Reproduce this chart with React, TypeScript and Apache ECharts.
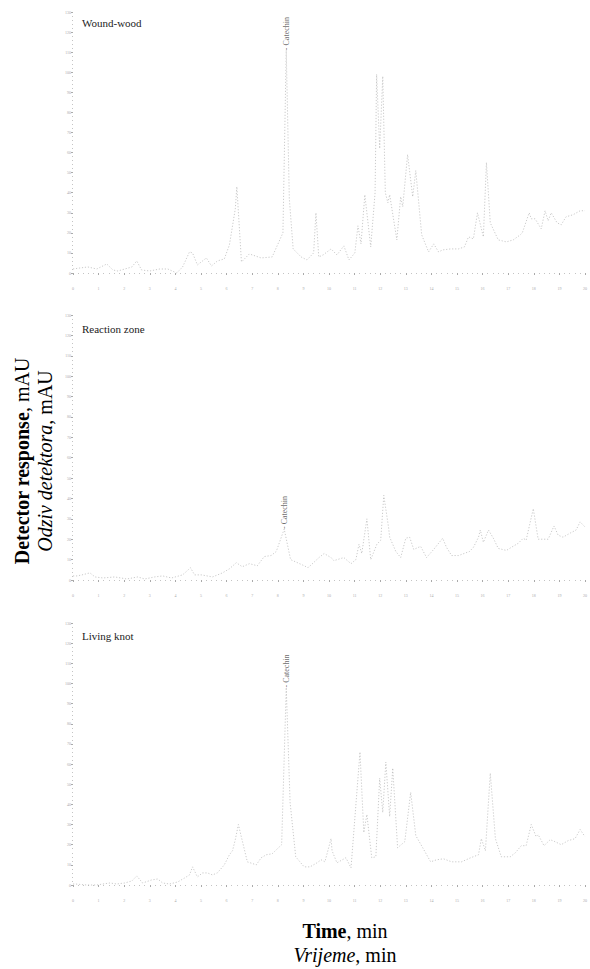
import React, { useEffect, useRef } from "react";
import * as echarts from "echarts";

// Panel titles
const panelNames = ["Wound-wood", "Reaction zone", "Living knot"];

// Retention time (min) and detector response (mAU) — Wound-wood
const woundTime = [0, 0.27, 0.58, 0.93, 1.32, 1.56, 1.75, 2.3, 2.49, 2.68, 3.0, 3.39, 3.7, 4.05, 4.28, 4.55, 4.67, 4.86, 5.21, 5.41, 5.64, 5.91, 6.11, 6.34, 6.4, 6.58, 6.89, 7.35, 7.78, 8.2, 8.33, 8.45, 8.6, 8.91, 9.14, 9.4, 9.49, 9.6, 9.77, 10.08, 10.31, 10.58, 10.78, 11.01, 11.13, 11.25, 11.4, 11.63, 11.8, 11.86, 11.98, 12.1, 12.2, 12.3, 12.37, 12.65, 12.8, 12.88, 13.07, 13.27, 13.39, 13.62, 13.89, 14.09, 14.28, 14.44, 14.75, 15.06, 15.29, 15.45, 15.64, 15.8, 16.03, 16.15, 16.3, 16.61, 16.93, 17.2, 17.47, 17.55, 17.82, 17.9, 18.05, 18.29, 18.44, 18.56, 18.68, 18.91, 19.07, 19.26, 19.53, 19.81, 20.0];
const woundResp = [2, 2.5, 3, 2, 4.5, 1.5, 1, 3, 6, 1.5, 1, 2, 2, 0, 3, 10.5, 10, 4, 7.5, 3.5, 6, 7, 14, 32, 43, 5.5, 9.5, 7.5, 8, 20, 111, 37, 12, 8, 6.5, 10, 30, 8, 9, 12, 9, 13.5, 6.5, 10, 23.5, 14.5, 39, 13, 40, 99, 62, 98, 40, 35, 39, 16.5, 38, 33, 59, 38, 51, 19, 10.5, 14.5, 10.5, 11.5, 12, 12, 13, 18, 17, 30, 18, 55, 25, 16.5, 15.5, 16.5, 19, 20, 30, 27, 27, 22, 31, 26, 30, 25, 24, 28, 29, 31, 31];

// Reaction zone
const reactTime = [0, 0.16, 0.35, 0.66, 0.86, 1.17, 1.63, 2.1, 2.53, 2.8, 3.19, 3.5, 3.85, 4.28, 4.59, 4.75, 5.02, 5.45, 5.84, 6.11, 6.38, 6.61, 6.89, 7.2, 7.47, 7.74, 7.94, 8.25, 8.5, 9.03, 9.18, 9.61, 9.81, 10.08, 10.19, 10.58, 10.86, 11.05, 11.17, 11.28, 11.48, 11.63, 11.87, 12.02, 12.14, 12.33, 12.37, 12.61, 12.8, 13.0, 13.15, 13.31, 13.58, 13.81, 14.09, 14.44, 14.59, 14.79, 15.06, 15.49, 15.64, 15.84, 15.91, 16.03, 16.23, 16.42, 16.61, 16.93, 17.12, 17.39, 17.59, 17.7, 17.98, 18.17, 18.56, 18.79, 18.95, 19.14, 19.42, 19.65, 19.81, 20.0];
const reactResp = [2, 2, 2.5, 3.5, 1.5, 1, 1.5, 0.5, 1.5, 0.5, 1.5, 2, 1, 2.5, 6, 2.5, 2.5, 1.5, 3.5, 5.5, 8.5, 6.5, 8, 7, 11.5, 12, 14, 25, 10, 7, 6, 11, 13, 11, 9.5, 11, 8, 10, 17.5, 13, 30, 10, 17.5, 19.5, 41.5, 25.5, 21, 14, 11, 20.5, 21, 15, 16.5, 11, 15, 20.5, 16, 12, 12, 14, 16, 21, 24.5, 18.5, 24.5, 20.5, 15.5, 14.5, 16, 18, 20.5, 19.5, 35, 20, 20, 26.5, 22, 21, 23, 24.5, 28.5, 26];

// Living knot
const knotTime = [0, 0.08, 0.54, 0.93, 1.17, 1.44, 1.71, 2.02, 2.3, 2.49, 2.72, 3.07, 3.31, 3.5, 3.77, 4.09, 4.36, 4.55, 4.67, 4.86, 5.06, 5.25, 5.45, 5.64, 5.91, 6.11, 6.23, 6.34, 6.46, 6.81, 7.16, 7.35, 7.55, 7.78, 8.15, 8.33, 8.48, 8.7, 9.03, 9.26, 9.53, 9.69, 9.84, 10.08, 10.12, 10.31, 10.66, 10.86, 11.21, 11.36, 11.48, 11.67, 11.83, 11.98, 12.1, 12.22, 12.37, 12.49, 12.68, 12.96, 13.19, 13.39, 13.66, 13.97, 14.2, 14.47, 14.79, 15.18, 15.53, 15.84, 15.95, 16.11, 16.3, 16.5, 16.73, 17.08, 17.28, 17.51, 17.7, 17.9, 18.09, 18.17, 18.4, 18.64, 18.83, 19.07, 19.34, 19.61, 19.81, 20.0];
const knotResp = [0.5, 0.5, 0, 0, 0.5, 1, 0.5, 1, 2, 4.5, 1, 2.5, 3, 1, 0.5, 1.5, 3.5, 5, 9, 4, 6, 6, 5, 6, 10, 15, 17, 22.5, 30, 11.5, 10, 13.5, 15, 15.5, 20, 98, 41, 14, 9, 9, 11, 12.5, 11.5, 23, 17, 11, 13.5, 8.5, 66, 26, 35, 13.5, 14, 53, 36, 61, 34, 58, 18.5, 21.5, 46, 24.5, 18.5, 11.5, 12.5, 13, 11.5, 11.5, 13.5, 15, 23, 17, 55.5, 23, 14, 14, 16, 19.5, 19.5, 30, 24, 25, 19.5, 22.5, 21.5, 20, 22, 23, 27.5, 24];

// Catechin peak apex per panel [time, response]
const catechinPeaks = [
  [8.33, 111],
  [8.25, 25],
  [8.33, 98],
];

const panelTimes = [woundTime, reactTime, knotTime];
const panelResps = [woundResp, reactResp, knotResp];

const X_MIN = 0;
const X_MAX = 20;
const Y_MIN = 0;
const Y_MAX = 130;

export default function App() {
  const ref = useRef<HTMLDivElement>(null);

  useEffect(() => {
    if (!ref.current) return;
    const chart = echarts.init(ref.current, undefined, { renderer: "svg" });

    const gridDefs = [
      { top: 12, height: 261 },
      { top: 315, height: 265 },
      { top: 623, height: 262 },
    ];
    const serif = "'Liberation Serif', 'Times New Roman', serif";

    const grids = gridDefs.map((g) => ({ left: 73, right: 3, top: g.top, height: g.height }));

    const xAxes = gridDefs.map((_, i) => ({
      type: "value",
      gridIndex: i,
      min: X_MIN,
      max: X_MAX,
      interval: 1,
      offset: 10,
      axisLine: { show: false },
      axisTick: { show: true, length: 2, lineStyle: { color: "#aaa", width: 1 } },
      minorTick: { show: true, splitNumber: 5, length: 1, lineStyle: { color: "#c4c4c4", width: 1 } },
      splitLine: { show: false },
      axisLabel: { fontSize: 4, color: "#aaa", margin: 3, fontFamily: serif },
    }));

    const yAxes = gridDefs.map((_, i) => ({
      type: "value",
      gridIndex: i,
      min: Y_MIN,
      max: Y_MAX,
      interval: 10,
      axisLine: { show: false },
      axisTick: { show: true, length: 2, lineStyle: { color: "#aaa", width: 1 } },
      minorTick: { show: true, splitNumber: 5, length: 1, lineStyle: { color: "#c4c4c4", width: 1 } },
      splitLine: { show: false },
      axisLabel: { fontSize: 4, color: "#aaa", margin: 2, fontFamily: serif },
    }));

    const lineSeries = panelTimes.map((times, i) => ({
      type: "line",
      xAxisIndex: i,
      yAxisIndex: i,
      showSymbol: false,
      symbol: "none",
      clip: false,
      data: times.map((t, k) => [t, panelResps[i][k]]),
      lineStyle: { color: "#a6a6a6", width: 0.6, type: [1.2, 1.8] },
      silent: true,
    }));

    const labelSeries = catechinPeaks.map((p, i) => ({
      type: "scatter",
      xAxisIndex: i,
      yAxisIndex: i,
      symbolSize: 0,
      data: [p],
      label: {
        show: true,
        formatter: "- Catechin",
        position: "top",
        rotate: 90,
        align: "left",
        verticalAlign: "middle",
        distance: 0,
        fontSize: 8,
        color: "#444",
        fontFamily: serif,
      },
      silent: true,
    }));

    const titleY = [24, 330, 637];

    chart.setOption({
      animation: false,
      backgroundColor: "#ffffff",
      grid: grids,
      xAxis: xAxes,
      yAxis: yAxes,
      series: [...lineSeries, ...labelSeries],
      graphic: [
        ...panelNames.map((name, i) => ({
          type: "text",
          left: 82,
          top: titleY[i] - 7,
          style: { text: name, font: `11px ${serif}`, fill: "#222" },
        })),
        {
          type: "text",
          x: 22,
          y: 461,
          rotation: Math.PI / 2,
          style: {
            text: "{b|Detector response}{n|, mAU}",
            align: "center",
            verticalAlign: "middle",
            rich: {
              b: { font: `bold 20px ${serif}`, fill: "#000" },
              n: { font: `20px ${serif}`, fill: "#000" },
            },
          },
        },
        {
          type: "text",
          x: 45,
          y: 461,
          rotation: Math.PI / 2,
          style: {
            text: "{i|Odziv detektora}{n|, mAU}",
            align: "center",
            verticalAlign: "middle",
            rich: {
              i: { font: `italic 20px ${serif}`, fill: "#000" },
              n: { font: `20px ${serif}`, fill: "#000" },
            },
          },
        },
        {
          type: "text",
          x: 345,
          y: 931,
          style: {
            text: "{b|Time}{n|, min}",
            align: "center",
            verticalAlign: "middle",
            rich: {
              b: { font: `bold 20px ${serif}`, fill: "#000" },
              n: { font: `20px ${serif}`, fill: "#000" },
            },
          },
        },
        {
          type: "text",
          x: 345,
          y: 955,
          style: {
            text: "{i|Vrijeme}{n|, min}",
            align: "center",
            verticalAlign: "middle",
            rich: {
              i: { font: `italic 20px ${serif}`, fill: "#000" },
              n: { font: `20px ${serif}`, fill: "#000" },
            },
          },
        },
      ],
    });

    return () => chart.dispose();
  }, []);

  return (
    <div
      ref={ref}
      style={{ position: "absolute", left: 0, top: 0, width: 590, height: 969, background: "#fff" }}
    />
  );
}
